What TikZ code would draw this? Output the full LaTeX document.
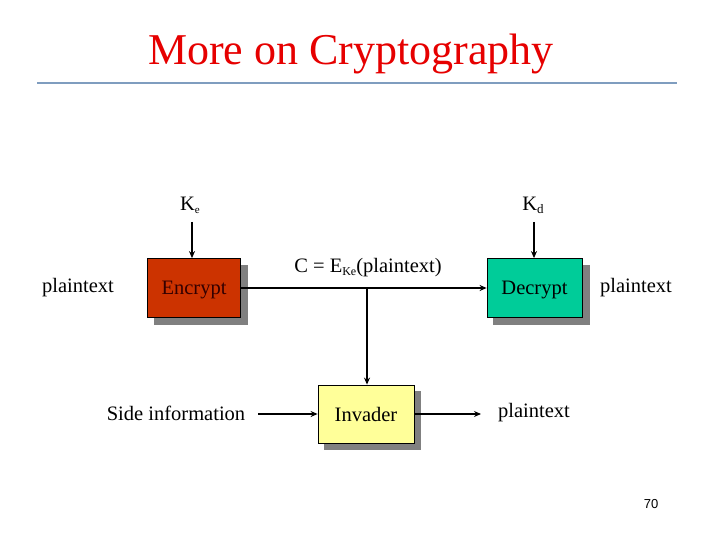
\documentclass[tikz,border=0pt]{standalone}
\usepackage{fontspec}
\setmainfont{Liberation Serif}
\newfontfamily\numfont{Liberation Sans}
\usetikzlibrary{arrows.meta}
\definecolor{titlered}{RGB}{230,0,0}
\definecolor{rulecol}{RGB}{127,157,191}
\definecolor{encfill}{RGB}{204,51,0}
\definecolor{decfill}{RGB}{0,204,153}
\definecolor{invfill}{RGB}{255,255,153}
\definecolor{shadowcol}{RGB}{128,128,128}
\tikzset{
  box/.style={draw=black, line width=0.8pt, minimum width=93pt, minimum height=59pt, inner sep=0pt,
    text depth=0pt, font=\fontsize{20.5}{24}\selectfont},
  lbl/.style={font=\fontsize{20.5}{24}\selectfont, inner sep=0pt},
  conn/.style={line width=1.6pt, -{Stealth[length=7pt,width=6pt]}}
}
\begin{document}
\begin{tikzpicture}[x=1pt,y=-1pt]
\useasboundingbox (0,0) rectangle (720,540);
% title
\node[text=titlered, font=\fontsize{44}{50}\selectfont, inner sep=0pt] (title) at (351,54) {More on Cryptography};
\draw[rulecol, line width=2pt] (37,83) -- (677,83);
% shadows
\fill[shadowcol] (154,265) rectangle (248,325);
\fill[shadowcol] (493,265) rectangle (590,325);
\fill[shadowcol] (324,391) rectangle (421,450);
% boxes
\node[box, fill=encfill, text=black!80!red] (enc) at (194,288) {Encrypt};
\node[box, fill=decfill, minimum width=95pt] (dec) at (534.5,288) {Decrypt};
\node[box, fill=invfill, minimum width=96pt, minimum height=58pt] (inv) at (366,414) {Invader};
% labels
\node[lbl] (ke) at (190,205) {K\raisebox{-3pt}{\fontsize{11}{12}\selectfont e}};
\node[lbl] (kd) at (533,205) {K\raisebox{-3pt}{\fontsize{13}{14}\selectfont d}};
\node[lbl] (pl1) at (78,288) {plaintext};
\node[lbl] (pl2) at (636,288) {plaintext};
\node[lbl] (pl3) at (534,413) {plaintext};
\node[lbl] (side) at (176,413) {Side information};
\node[lbl] (cexp) at (368,268) {C = E\raisebox{-3pt}{\fontsize{12}{13}\selectfont Ke}(plaintext)};
\node[font=\numfont\fontsize{13}{15}\selectfont, inner sep=0pt] (num) at (651,504) {70};
% key arrows
\coordinate (ketop) at (192,222);
\coordinate (kdtop) at (534,222);
\draw[conn] (ketop) -- (ketop |- enc.north);
\draw[conn] (kdtop) -- (kdtop |- dec.north);
% main line
\draw[conn] (enc.east) -- (dec.west);
\coordinate (junc) at (367,288);
\draw[conn] (junc) -- (junc |- inv.north);
% bottom arrows
\coordinate (sidestart) at (258,414);
\coordinate (plend) at (481,414);
\draw[conn] (sidestart) -- (inv.west);
\draw[conn] (inv.east) -- (plend);
\end{tikzpicture}
\end{document}
